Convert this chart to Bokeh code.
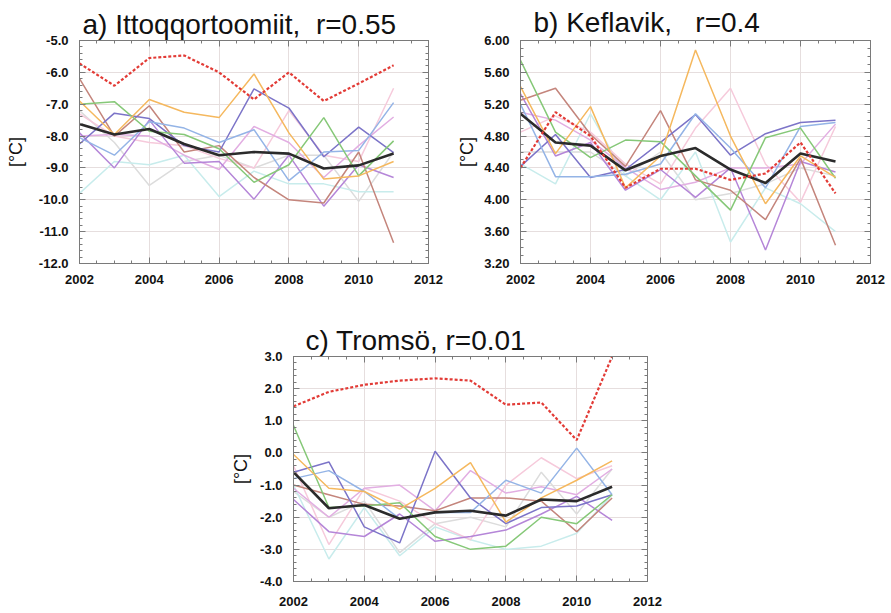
from bokeh.plotting import figure
from bokeh.layouts import column, row, Spacer
from bokeh.models import LinearAxis, Range1d, SingleIntervalTicker, PrintfTickFormatter
from bokeh.embed import file_html
from bokeh.resources import INLINE

years = [2002, 2003, 2004, 2005, 2006, 2007, 2008, 2009, 2010, 2011]

# a) Ittoqqortoomiit
itt_orange = [-6.9, -7.95, -6.85, -7.25, -7.42, -6.05, -7.9, -9.35, -9.25, -8.8]
itt_green = [-7.0, -6.92, -7.85, -7.95, -8.4, -9.45, -8.9, -7.42, -9.25, -8.15]
itt_lblue = [-8.05, -8.6, -7.55, -7.75, -8.2, -7.8, -9.4, -8.5, -8.45, -6.95]
itt_indigo = [-8.25, -7.28, -7.45, -8.3, -8.5, -6.52, -7.12, -8.65, -7.72, -8.52]
itt_brown = [-6.2, -8.0, -7.05, -8.5, -8.3, -9.3, -10.0, -10.1, -8.5, -11.35]
itt_violet = [-7.9, -9.0, -7.5, -8.85, -8.8, -9.98, -8.6, -10.2, -8.9, -9.3]
itt_pviolet = [-8.0, -7.95, -8.0, -8.6, -9.05, -7.7, -8.2, -9.3, -8.3, -7.4]
itt_lpink = [-7.3, -8.0, -8.2, -8.3, -8.7, -9.0, -7.2, -8.6, -8.8, -6.5]
itt_lcyan = [-9.8, -8.8, -8.9, -8.6, -9.9, -9.1, -9.5, -9.5, -9.75, -9.75]
itt_lgray = [-7.2, -8.2, -9.55, -8.8, -8.6, -9.0, -8.6, -8.6, -10.05, -8.5]
itt_mean = [-7.62, -7.95, -7.78, -8.25, -8.6, -8.5, -8.55, -9.02, -8.92, -8.55]
itt_obs = [-5.72, -6.42, -5.55, -5.47, -6.0, -6.85, -6.0, -6.9, -6.35, -5.78]

# b) Keflavik
kef_orange = [5.42, 4.58, 5.17, 4.15, 4.55, 5.88, 4.8, 3.95, 4.55, 4.28]
kef_green = [5.75, 4.85, 4.53, 4.75, 4.73, 4.3, 3.87, 4.78, 4.9, 4.27]
kef_lblue = [5.2, 4.29, 4.29, 4.32, 4.45, 5.08, 4.65, 4.15, 4.92, 4.97]
kef_indigo = [4.42, 4.82, 4.28, 4.38, 4.72, 5.07, 4.56, 4.83, 4.97, 5.0]
kef_brown = [5.25, 5.4, 4.82, 4.42, 5.12, 4.25, 4.12, 3.75, 4.52, 3.43]
kef_violet = [5.33, 4.55, 4.72, 4.12, 4.38, 4.03, 4.4, 3.37, 4.48, 4.35]
kef_pviolet = [5.1, 5.0, 4.75, 4.4, 4.13, 4.22, 4.4, 4.4, 4.45, 4.95]
kef_lpink = [4.85, 5.05, 4.85, 4.45, 4.2, 4.9, 5.4, 4.45, 3.97, 4.92]
kef_lcyan = [4.45, 4.2, 5.08, 4.3, 4.0, 4.6, 3.47, 4.15, 3.95, 3.6]
kef_lgray = [4.6, 4.6, 4.6, 4.3, 4.6, 4.0, 4.08, 4.2, 4.4, 4.3]
kef_mean = [5.08, 4.72, 4.68, 4.37, 4.55, 4.65, 4.38, 4.21, 4.58, 4.48]
kef_obs = [4.4, 5.1, 4.8, 4.15, 4.39, 4.39, 4.25, 4.33, 4.72, 4.08]

# c) Tromso
tro_orange = [-0.05, -1.1, -1.2, -1.75, -1.1, -0.3, -2.15, -1.4, -0.85, -0.25]
tro_green = [0.85, -1.7, -1.65, -1.55, -2.6, -3.0, -2.9, -2.0, -2.2, -1.3]
tro_lblue = [-0.8, -0.55, -1.2, -2.05, -1.85, -1.85, -0.85, -1.25, 0.15, -1.3]
tro_indigo = [-0.6, -0.28, -2.3, -2.8, 0.05, -1.4, -2.2, -1.7, -1.65, -1.3]
tro_brown = [-1.0, -1.3, -1.6, -1.65, -1.8, -1.4, -1.4, -1.5, -2.45, -1.4]
tro_violet = [-1.45, -2.45, -2.6, -1.9, -2.75, -2.6, -2.4, -1.9, -1.35, -2.1]
tro_pviolet = [-1.1, -2.0, -1.1, -1.0, -1.8, -0.55, -1.25, -1.05, -1.3, -0.5]
tro_lpink = [-0.4, -2.85, -1.1, -1.5, -2.2, -2.7, -1.0, -0.15, -0.8, -0.4]
tro_lcyan = [-1.0, -3.3, -1.7, -3.2, -2.3, -2.7, -3.0, -2.9, -2.5, -1.3]
tro_lgray = [-1.2, -2.0, -1.5, -3.1, -2.2, -2.0, -2.3, -0.6, -1.9, -0.5]
tro_mean = [-0.6, -1.72, -1.62, -2.05, -1.85, -1.8, -1.95, -1.45, -1.5, -1.05]
tro_obs = [1.45, 1.9, 2.12, 2.25, 2.32, 2.25, 1.5, 1.57, 0.4, 3.0]

member_colors = ["#dcdcdc", "#c8ecec", "#f6cadb", "#e2aee2", "#b586d8",
                 "#c4857c", "#7c74c8", "#94b4e6", "#86c878", "#f5b85e"]

FONT = "Liberation Sans"
FRAME = "#7a7a7a"
GRID = "#e6dede"
NB = "\u00a0"


def make_panel(title, title_offset, y0, y1, ystep, yminor, yfmt, members, mean, obs,
               width, height, bl, br, bt, bb, ylab_standoff, xlab_standoff,
               title_valign="bottom"):
    p = figure(width=width, height=height, x_range=Range1d(2002, 2012),
               y_range=Range1d(y0, y1), output_backend="svg", toolbar_location=None,
               min_border_left=bl, min_border_right=br, min_border_top=bt,
               min_border_bottom=bb, x_axis_location=None, y_axis_location=None)
    p.outline_line_color = FRAME
    p.outline_line_width = 1
    p.background_fill_color = "white"
    p.border_fill_color = "white"

    xt = SingleIntervalTicker(interval=2, num_minor_ticks=4)
    yt = SingleIntervalTicker(interval=ystep, num_minor_ticks=yminor)

    for loc in ["below", "above"]:
        ax = LinearAxis(ticker=xt)
        ax.axis_line_color = FRAME
        ax.major_tick_line_color = FRAME
        ax.minor_tick_line_color = FRAME
        ax.major_tick_in = 6
        ax.major_tick_out = 0
        ax.minor_tick_in = 3
        ax.minor_tick_out = 0
        if loc == "below":
            ax.major_label_text_font = FONT
            ax.major_label_text_font_size = "13px"
            ax.major_label_text_font_style = "bold"
            ax.major_label_text_color = "#111111"
            ax.major_label_standoff = xlab_standoff
        else:
            ax.major_label_text_font_size = "1px"
            ax.major_label_text_color = None
            ax.major_label_standoff = 0
        p.add_layout(ax, loc)

    for loc in ["left", "right"]:
        ax = LinearAxis(ticker=yt)
        ax.axis_line_color = FRAME
        ax.major_tick_line_color = FRAME
        ax.minor_tick_line_color = FRAME
        ax.major_tick_in = 6
        ax.major_tick_out = 0
        ax.minor_tick_in = 3
        ax.minor_tick_out = 0
        if loc == "left":
            ax.formatter = PrintfTickFormatter(format=yfmt)
            ax.major_label_text_font = FONT
            ax.major_label_text_font_size = "13px"
            ax.major_label_text_font_style = "bold"
            ax.major_label_text_color = "#111111"
            ax.major_label_standoff = 11
            ax.axis_label = "[°C]"
            ax.axis_label_text_font = FONT
            ax.axis_label_text_font_size = "18px"
            ax.axis_label_text_font_style = "normal"
            ax.axis_label_text_color = "#111111"
            ax.axis_label_standoff = ylab_standoff
        else:
            ax.major_label_text_font_size = "1px"
            ax.major_label_text_color = None
            ax.major_label_standoff = 0
        p.add_layout(ax, loc)

    p.xgrid.ticker = xt
    p.ygrid.ticker = yt
    p.xgrid.grid_line_color = GRID
    p.ygrid.grid_line_color = GRID

    for vals, col in zip(members, member_colors):
        p.line(years, vals, line_color=col, line_width=1.5)
    p.line(years, mean, line_color="#2b2b2b", line_width=2.6)
    p.line(years, obs, line_color="#e23b36", line_width=2.2, line_dash="3 2")

    p.title.text = title
    p.title.align = "left"
    p.title.offset = title_offset
    p.title.text_font = FONT
    p.title.text_font_size = "28px"
    p.title.text_font_style = "normal"
    p.title.text_color = "#111111"
    p.title.standoff = 2
    p.title.vertical_align = title_valign
    return p


pa = make_panel("a) Ittoqqortoomiit," + NB + NB + "r=0.55", 3, -12.0, -5.0, 1.0, 5, "%.1f",
                [itt_lgray, itt_lcyan, itt_lpink, itt_pviolet, itt_violet,
                 itt_brown, itt_indigo, itt_lblue, itt_green, itt_orange],
                itt_mean, itt_obs, 444, 300, 79, 16, 40, 37, 10, 11)

pb = make_panel("b) Keflavik," + NB + NB + NB + "r=0.4", 13, 3.2, 6.0, 0.4, 4, "%.2f",
                [kef_lgray, kef_lcyan, kef_lpink, kef_pviolet, kef_violet,
                 kef_brown, kef_indigo, kef_lblue, kef_green, kef_orange],
                kef_mean, kef_obs, 447, 300, 76, 21, 36, 37, 4, 11,
                title_valign="top")

pc = make_panel("c) Tromsö," + NB + "r=0.01", 12, -4.0, 3.0, 1.0, 5, "%.1f",
                [tro_lgray, tro_lcyan, tro_lpink, tro_pviolet, tro_violet,
                 tro_brown, tro_indigo, tro_lblue, tro_green, tro_orange],
                tro_mean, tro_obs, 450, 313, 75, 21, 56, 32, 6, 15)

layout = column(row(pa, pb), row(Spacer(width=218, height=313), pc))

open("out.html", "w").write(file_html(layout, INLINE))
